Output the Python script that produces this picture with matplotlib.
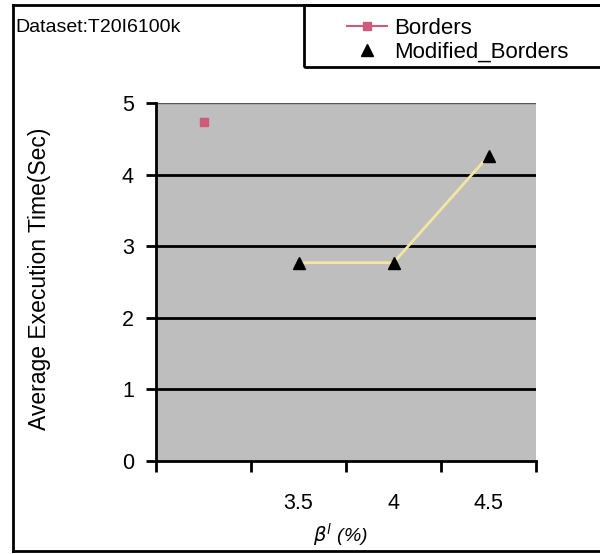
import matplotlib
matplotlib.use("Agg")
import matplotlib.pyplot as plt
from matplotlib.lines import Line2D
from matplotlib.patches import Rectangle
import numpy as np

plt.rcParams['font.family'] = ['Liberation Sans', 'DejaVu Sans']

# Support threshold categories (first slot unlabeled)
categories = ["", "3.5", "4", "4.5"]
borders = [4.73, np.nan, np.nan, np.nan]
modified_borders = [np.nan, 2.77, 2.77, 4.26]
y_ticks = [0, 1, 2, 3, 4, 5]

W, H = 600, 554
fig = plt.figure(figsize=(W / 100, H / 100), dpi=100)

def fx(px):
    return px / W

def fy(py):
    return 1 - py / H

ax = fig.add_axes([fx(156), fy(461), fx(536) - fx(156), fy(103) - fy(461)])
ax.set_facecolor("#bebebe")

x = np.arange(len(categories))
ax.plot(x, modified_borders, color="#f2e6a2", linewidth=2, zorder=3)
ax.plot(x, modified_borders, linestyle="none", marker="^", markersize=9,
        color="black", zorder=4)
ax.plot(x, borders, linestyle="none", marker="s", markersize=6,
        color="#cc5c7a", zorder=4)

ax.set_xlim(-0.5, len(categories) - 0.5)
ax.set_ylim(0, 5)

# horizontal grid
for yv in y_ticks[1:-1]:
    ax.axhline(yv, color="black", linewidth=2, zorder=2)

for side in ["top", "right"]:
    ax.spines[side].set_visible(False)
ax.axhline(5, color="#555555", linewidth=1, zorder=2)
ax.spines["left"].set_linewidth(2)
ax.spines["bottom"].set_linewidth(2)

ax.set_yticks(y_ticks)
ax.set_yticklabels([str(v) for v in y_ticks], fontsize=15.5)
ax.tick_params(axis="y", direction="out", length=7, width=2, pad=9)

# category boundary ticks, labels centered on categories
ax.set_xticks(np.arange(-0.5, len(categories), 1.0))
ax.set_xticklabels([])
ax.tick_params(axis="x", which="major", direction="out", length=8, width=2)
ax.set_xticks(x, minor=True)
ax.set_xticklabels(categories, minor=True, fontsize=15.5)
ax.tick_params(axis="x", which="minor", length=0, pad=23)

fig.text(fx(40), fy(279), "Average Execution Time(Sec)", rotation=90,
         ha="center", va="center", fontsize=16.5)
fig.text(fx(340), fy(535), r"$\beta^{l}$ (%)", ha="center", va="center",
         fontsize=14, fontstyle="italic")

# outer frame
fig.add_artist(Line2D([fx(13), fx(13)], [fy(551), fy(5)], color="black",
                      linewidth=2, transform=fig.transFigure))
fig.add_artist(Line2D([fx(13), 1], [fy(5), fy(5)], color="black",
                      linewidth=2, transform=fig.transFigure))
fig.add_artist(Line2D([fx(13), 1], [fy(551), fy(551)], color="black",
                      linewidth=2, transform=fig.transFigure))

fig.text(fx(15), fy(28), "Dataset:T20I6100k", ha="left", va="center",
         fontsize=14)

# legend box
fig.add_artist(Rectangle((fx(304), fy(67)), 1 - fx(304) + 0.01, fy(5) - fy(67),
                         transform=fig.transFigure, fill=False,
                         edgecolor="black", linewidth=2))
handles = [
    Line2D([], [], color="#cc5c7a", marker="s", markersize=6, linewidth=1.5),
    Line2D([], [], color="black", marker="^", markersize=8, linestyle="none"),
]
fig.legend(handles, ["Borders", "Modified_Borders"], loc="upper left",
           bbox_to_anchor=(fx(336), fy(7)), frameon=False, fontsize=16,
           handlelength=1.8, handletextpad=0.3, labelspacing=0.1,
           borderpad=0.0)

fig.savefig("out.png", dpi=100)
